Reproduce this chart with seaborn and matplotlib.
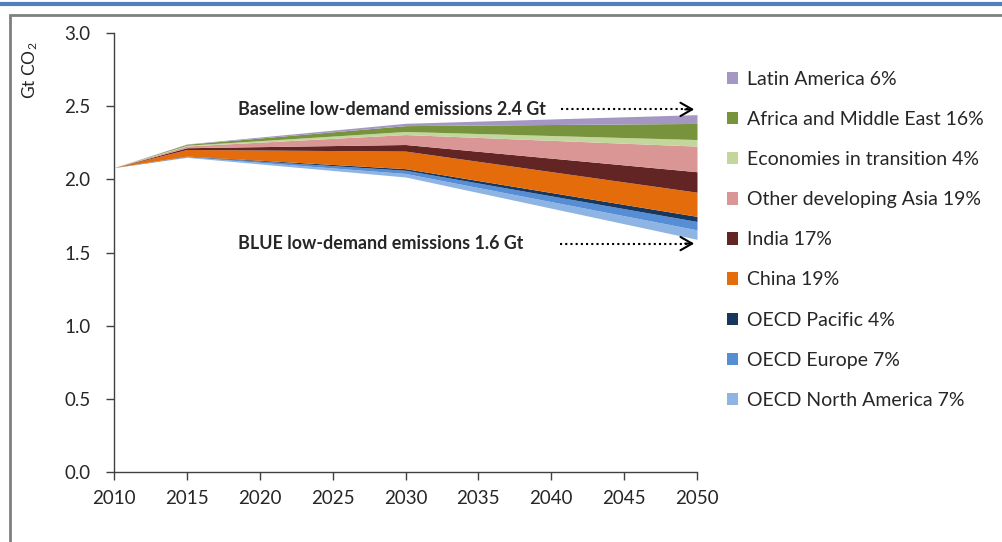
import numpy as np
import pandas as pd
import matplotlib
matplotlib.use("Agg")
import matplotlib.pyplot as plt
import seaborn as sns
from matplotlib.patches import Patch, Rectangle
from matplotlib.lines import Line2D

# datos (Gt CO2)
years = [2010, 2015, 2030, 2050]
blue_line = [2.080, 2.150, 2.016, 1.590]   # parte baja del apilado (BLUE)

oecd_na = [0.0, 0.004, 0.024, 0.065]
oecd_eu = [0.0, 0.003, 0.022, 0.057]
oecd_pac = [0.0, 0.002, 0.011, 0.035]
china = [0.0, 0.045, 0.120, 0.165]
india = [0.0, 0.012, 0.045, 0.140]
other_asia = [0.0, 0.012, 0.068, 0.175]
eit = [0.0, 0.005, 0.021, 0.045]
africa_me = [0.0, 0.007, 0.040, 0.110]
latam = [0.0, 0.002, 0.016, 0.060]

labels = ["OECD North America 7%", "OECD Europe 7%", "OECD Pacific 4%", "China 19%",
          "India 17%", "Other developing Asia 19%", "Economies in transition 4%",
          "Africa and Middle East 16%", "Latin America 6%"]
colores = ["#8EB4E3", "#558ED5", "#17375E", "#E46C0A", "#632523",
           "#D99694", "#C3D69B", "#77933C", "#A597C4"]

x_ticks = [2010, 2015, 2020, 2025, 2030, 2035, 2040, 2045, 2050]
y_ticks = [0.0, 0.5, 1.0, 1.5, 2.0, 2.5, 3.0]

df = pd.DataFrame({"year": years, "base": blue_line})
capas = [oecd_na, oecd_eu, oecd_pac, china, india, other_asia, eit, africa_me, latam]

sns.set_theme(style="ticks")
plt.rcParams["font.family"] = ["Lato", "DejaVu Sans"]
plt.rcParams["mathtext.default"] = "regular"

fig = plt.figure(figsize=(10.03, 5.42), dpi=100)
ax = fig.add_axes([114 / 1003, 1 - 472 / 542, (697 - 114) / 1003, (472 - 33) / 542])

abajo = df["base"].to_numpy()
for capa, color, lab in zip(capas, colores, labels):
    arriba = abajo + np.array(capa)
    ax.fill_between(df["year"], abajo, arriba, color=color, lw=0, label=lab)
    abajo = arriba

ax.set_xlim(2010, 2050)
ax.set_ylim(0, 3.0)
ax.set_xticks(x_ticks)
ax.set_yticks(y_ticks)
ax.set_yticklabels([f"{v:.1f}" for v in y_ticks])
ax.tick_params(axis="both", labelsize=13.5, direction="out", length=6, width=1, color="#404040")
ax.tick_params(axis="x", pad=7)
ax.tick_params(axis="y", pad=11)
sns.despine(ax=ax)
for s in ["left", "bottom"]:
    ax.spines[s].set_color("#404040")
    ax.spines[s].set_linewidth(1)

fig.text(30 / 1003, 1 - 70 / 542, "Gt CO$_2$", rotation=90, ha="center", va="center", fontsize=12.5)

# anotaciones con flechas punteadas
def flecha(y, x0, texto):
    ax.text(2018.5, y, texto, fontsize=12.9, fontweight="bold", va="center", ha="left")
    ax.plot([x0, 2049.6], [y, y], ls=(0, (1, 1.5)), lw=1.5, color="black", clip_on=False)
    ax.annotate("", xy=(2050, y), xytext=(2049.0, y),
                arrowprops=dict(arrowstyle="->,head_length=0.7,head_width=0.4", lw=1.5, color="black"),
                annotation_clip=False)

flecha(2.478, 2040.7, "Baseline low-demand emissions 2.4 Gt")
flecha(1.561, 2040.6, "BLUE low-demand emissions 1.6 Gt")

handles = [Patch(facecolor=c, edgecolor="none") for c in colores][::-1]
fig.legend(handles, labels[::-1], loc="upper left", bbox_to_anchor=(719 / 1003, 1 - 63 / 542),
           frameon=False, fontsize=14, handlelength=0.6, handleheight=0.6,
           handletextpad=0.45, labelspacing=1.19, borderaxespad=0)

# marco del grafico
fig.add_artist(Line2D([0, 1], [1 - 4 / 542] * 2, color="#4F81BD", lw=3))
fig.add_artist(Rectangle((10 / 1003, -0.1), 1.2, 1.1 - 15 / 542, fill=False,
                         edgecolor="#808080", lw=2, transform=fig.transFigure))

plt.savefig("out.png", dpi=100)
